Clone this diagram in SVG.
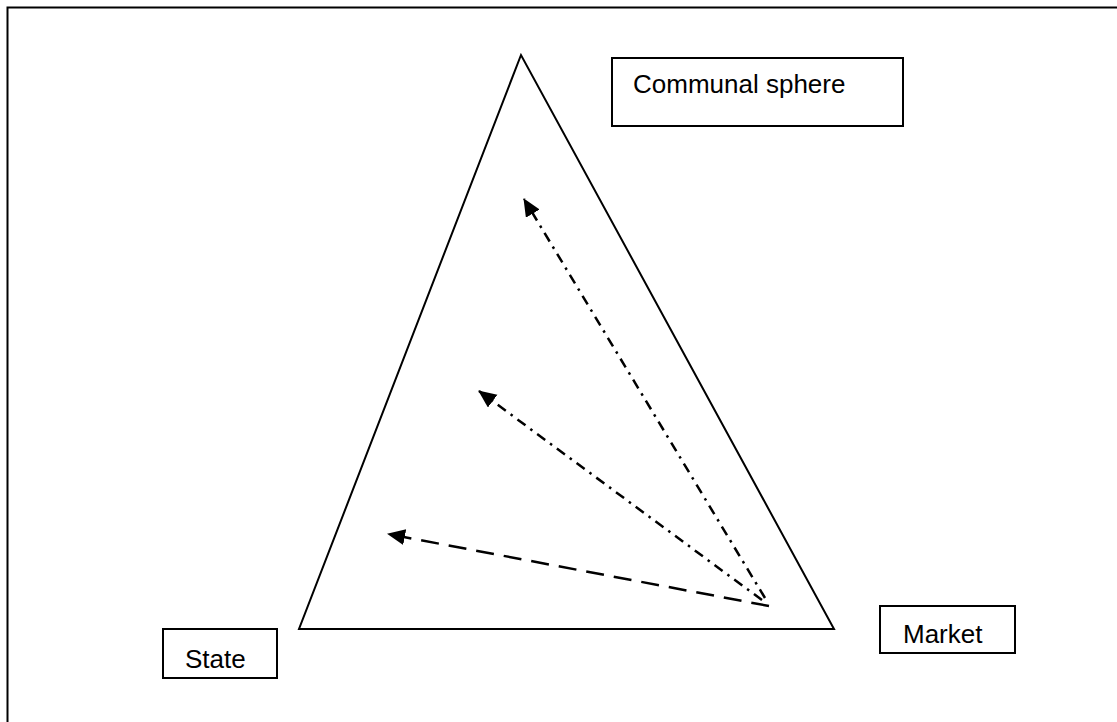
<svg xmlns="http://www.w3.org/2000/svg" width="1117" height="722" viewBox="0 0 1117 722">
<style>
.frame{fill:none;stroke:#000;stroke-width:2}
.box{fill:#fff;stroke:#000;stroke-width:2}
.lbl{font-family:"Liberation Sans",Arial,sans-serif;font-size:26px;fill:#000}
.conn{fill:none;stroke:#000;stroke-width:2.5;marker-end:url(#ah)}
.dash{stroke-dasharray:18 10}
.dashdot{stroke-dasharray:10 6 2.5 6}
</style>
<defs>
<marker id="ah" markerUnits="userSpaceOnUse" markerWidth="20" markerHeight="18" refX="17" refY="8" orient="auto">
<path d="M0,0 L18,8 L0,16 Z" fill="#000"/>
</marker>
</defs>
<rect width="1117" height="722" fill="#fff"/>
<path class="frame" d="M7.5,722 V7.5 H1117"/>
<g id="triangle">
<path d="M521,55 L299,629 L834,629 Z" fill="none" stroke="#000" stroke-width="2"/>
</g>
<g id="communal-sphere">
<rect class="box" x="612" y="58" width="291" height="68"/>
<text class="lbl" x="633" y="93">Communal sphere</text>
</g>
<g id="state">
<rect class="box" x="163" y="629" width="114" height="49"/>
<text class="lbl" x="185" y="668">State</text>
</g>
<g id="market">
<rect class="box" x="880" y="606" width="135" height="47"/>
<text class="lbl" x="903" y="643">Market</text>
</g>
<g id="connectors">
<line class="conn dash" x1="769" y1="606" x2="388" y2="534"/>
<line class="conn dashdot" x1="762" y1="600" x2="479" y2="391"/>
<line class="conn dashdot" x1="765" y1="598" x2="524" y2="199"/>
</g>
</svg>
